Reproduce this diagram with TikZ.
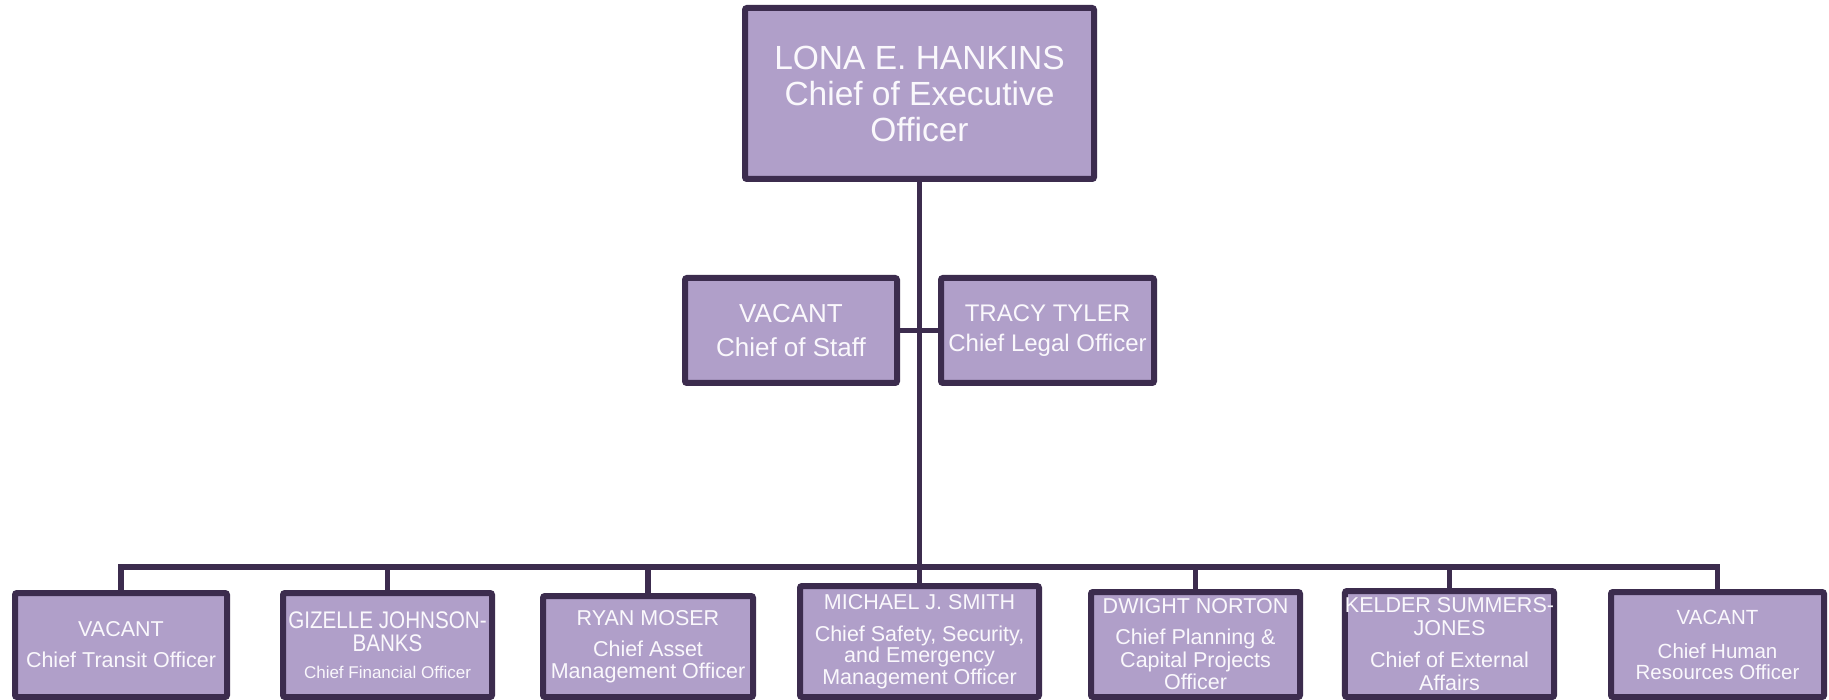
\documentclass[tikz,border=0pt]{standalone}
\usepackage{fontspec}
\setmainfont{Liberation Sans}
\usepackage{graphicx}
\definecolor{boxfill}{HTML}{B09FC9}
\definecolor{boxline}{HTML}{3C2C4E}
\definecolor{boxtext}{HTML}{FAF8FC}
\begin{document}
\begin{tikzpicture}[x=1pt,y=-1pt,
  orgbox/.style={draw=boxline, fill=boxfill, line width=6pt, rounded corners=2pt,
    inner sep=0pt, align=center, text=boxtext},
  link/.style={draw=boxline, line width=5.5pt}]
\useasboundingbox[fill=white] (0,0) rectangle (1829,700);

% top level
\node[orgbox, minimum width=349pt, minimum height=171pt,
  font=\fontsize{33.5}{36}\selectfont] (ceo) at (919.5,93.5)
  {LONA E. HANKINS\\Chief of Executive\\Officer};

% second level
\node[orgbox, minimum width=212pt, minimum height=105pt,
  font=\fontsize{26}{34}\selectfont] (staff) at (791,330.5)
  {VACANT\\Chief of Staff};
\node[orgbox, minimum width=213pt, minimum height=105pt,
  font=\fontsize{24}{30}\selectfont] (legal) at (1047.5,330.5)
  {TRACY TYLER\\Chief Legal Officer};

% bottom level
\node[orgbox, minimum width=212pt, minimum height=104pt,
  font=\fontsize{21.5}{22}\selectfont] (b1) at (121,645)
  {VACANT\\[9pt]Chief Transit Officer};
\node[orgbox, minimum width=209pt, minimum height=104pt,
  font=\fontsize{22}{23.5}\selectfont] (b2) at (387.5,645)
  {{\scalebox{0.86}[1]{\fontsize{24}{24}\selectfont GIZELLE JOHNSON-}}\\
   {\scalebox{0.86}[1]{\fontsize{24}{24}\selectfont BANKS}}\\[3pt]
   {\fontsize{17}{17}\selectfont Chief Financial Officer}};
\node[orgbox, minimum width=210pt, minimum height=101pt,
  font=\fontsize{21.5}{22}\selectfont] (b3) at (648,646.5)
  {RYAN MOSER\\[9pt]Chief Asset\\Management Officer};
\node[orgbox, minimum width=239pt, minimum height=111pt,
  font=\fontsize{21.5}{21.5}\selectfont] (b4) at (919.5,641.5)
  {MICHAEL J. SMITH\\[10pt]Chief Safety, Security,\\and Emergency\\Management Officer};
\node[orgbox, minimum width=209pt, minimum height=105pt,
  font=\fontsize{21.5}{22.5}\selectfont] (b5) at (1195.5,644.5)
  {DWIGHT NORTON\\[8.5pt]Chief Planning \&\\Capital Projects\\Officer};
\node[orgbox, minimum width=209pt, minimum height=106pt,
  font=\fontsize{21.5}{23}\selectfont] (b6) at (1449.5,644)
  {KELDER SUMMERS-\\JONES\\[9pt]Chief of External\\Affairs};
\node[orgbox, minimum width=213pt, minimum height=105pt,
  font=\fontsize{20.5}{21}\selectfont] (b7) at (1717.5,644.5)
  {VACANT\\[13pt]Chief Human\\Resources Officer};

% connectors
\coordinate (bus) at (919.5,567);
\draw[link] (ceo.south) -- (b4.north);
\draw[link] (staff.east) -- (legal.west);
\draw[link] (b1.north) |- (bus) -| (b7.north);
\foreach \n in {b2,b3,b5,b6}
  \draw[link] (\n.north) -- (\n.north |- bus);
\end{tikzpicture}
\end{document}
